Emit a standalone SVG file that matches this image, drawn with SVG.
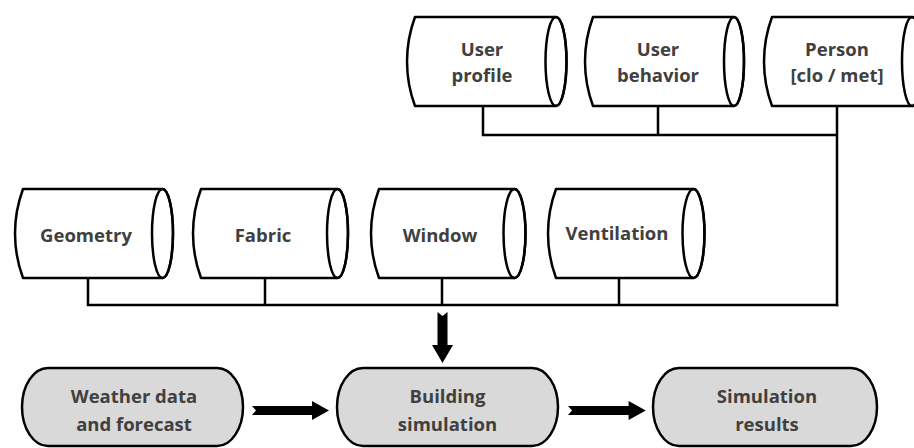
<svg xmlns="http://www.w3.org/2000/svg" width="914" height="448" viewBox="0 0 914 448">
  <style>
    .cyl { fill: #ffffff; stroke: #000000; stroke-width: 2.5; stroke-linejoin: round; }
    .cap { fill: none; stroke: #000000; stroke-width: 2.5; }
    .pill { fill: #d9d9d9; stroke: #000000; stroke-width: 2.5; }
    .wire { fill: none; stroke: #000000; stroke-width: 2.5; stroke-linecap: square; }
    .block { fill: #000000; }
    text { font-family: "Open Sans", "Noto Sans", "Liberation Sans", sans-serif; font-weight: bold; font-size: 18.5px; fill: #404040; text-anchor: middle; }
  </style>
  <defs>
    <!-- thick block arrow pointing right, notched tail at the origin -->
    <path id="blockArrow" d="M0,-4.5 L60,-4.5 L60,-9.5 L77,0 L60,9.5 L60,4.5 L0,4.5 L4,0 Z"/>
  </defs>

  <!-- upper row of data sources -->
  <g id="user-profile">
    <path class="cyl" d="M415,17 H556 A10.5,44.5 0 0 1 556,106 H415 A128,128 0 0 1 415,17 Z"/>
    <ellipse class="cap" cx="556" cy="61.5" rx="10.5" ry="44.5"/>
    <text x="482" y="56">User</text>
    <text x="482" y="82">profile</text>
  </g>
  <g id="user-behavior">
    <path class="cyl" d="M593,17 H734 A10,44.5 0 0 1 734,106 H593 A128,128 0 0 1 593,17 Z"/>
    <ellipse class="cap" cx="734" cy="61.5" rx="10" ry="44.5"/>
    <text x="658" y="56">User</text>
    <text x="658" y="82">behavior</text>
  </g>
  <g id="person">
    <path class="cyl" d="M772,17 H912 A10,44.5 0 0 1 912,106 H772 A128,128 0 0 1 772,17 Z"/>
    <ellipse class="cap" cx="912" cy="61.5" rx="10" ry="44.5"/>
    <text x="837" y="56">Person</text>
    <text x="837" y="82">[clo / met]</text>
  </g>

  <!-- lower row of data sources -->
  <g id="geometry">
    <path class="cyl" d="M23,189 H162.5 A10.5,44.5 0 0 1 162.5,278 H23 A128,128 0 0 1 23,189 Z"/>
    <ellipse class="cap" cx="162.5" cy="233.5" rx="10.5" ry="44.5"/>
    <text x="86" y="242">Geometry</text>
  </g>
  <g id="fabric">
    <path class="cyl" d="M201,189 H337.5 A10.5,44.5 0 0 1 337.5,278 H201 A128,128 0 0 1 201,189 Z"/>
    <ellipse class="cap" cx="337.5" cy="233.5" rx="10.5" ry="44.5"/>
    <text x="263" y="242">Fabric</text>
  </g>
  <g id="window">
    <path class="cyl" d="M379,189 H514.5 A11,44.5 0 0 1 514.5,278 H379 A128,128 0 0 1 379,189 Z"/>
    <ellipse class="cap" cx="514.5" cy="233.5" rx="11" ry="44.5"/>
    <text x="440" y="242">Window</text>
  </g>
  <g id="ventilation">
    <path class="cyl" d="M556,189 H693.5 A11,44.5 0 0 1 693.5,278 H556 A128,128 0 0 1 556,189 Z"/>
    <ellipse class="cap" cx="693.5" cy="233.5" rx="11" ry="44.5"/>
    <text x="617" y="240">Ventilation</text>
  </g>

  <!-- process chain -->
  <g id="weather">
    <rect class="pill" x="22" y="368" width="221" height="78" rx="26" ry="39"/>
    <text x="134" y="403">Weather data</text>
    <text x="134" y="431">and forecast</text>
  </g>
  <g id="building-simulation">
    <rect class="pill" x="337" y="368" width="221" height="78" rx="26" ry="39"/>
    <text x="447.5" y="403">Building</text>
    <text x="447.5" y="431">simulation</text>
  </g>
  <g id="simulation-results">
    <rect class="pill" x="653" y="368" width="224" height="78" rx="26" ry="39"/>
    <text x="767" y="403">Simulation</text>
    <text x="767" y="431">results</text>
  </g>

  <g id="connectors">
    <!-- occupant inputs bus -->
    <path class="wire" d="M483,107 V135 H837 M658,107 V135 M837,107 V305"/>
    <!-- building inputs bus -->
    <path class="wire" d="M88,279 V305 H837 M265,279 V305 M442,279 V305 M619,279 V305"/>
    <!-- flow arrows -->
    <path class="block" d="M437.5,312 L442.5,316 L447.5,312 L447.5,345 L453,345 L442.5,363 L432,345 L437.5,345 Z"/>
    <use href="#blockArrow" class="block" transform="translate(252,410.5)"/>
    <use href="#blockArrow" class="block" transform="translate(568,410.5) scale(1.01,1)"/>
  </g>
</svg>
